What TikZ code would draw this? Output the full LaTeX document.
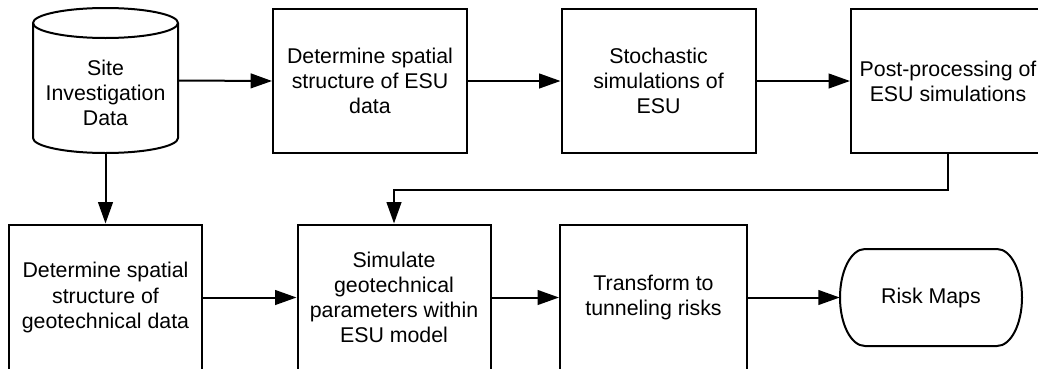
\documentclass[tikz,border=0pt]{standalone}
\usepackage{fontspec}
\setmainfont{Liberation Sans}
\usetikzlibrary{arrows.meta}
\tikzset{
  x=0.75pt, y=-0.75pt,
  txt/.style={align=center, inner sep=0pt, font=\fontsize{16}{18.8}\selectfont},
  box/.style={txt, draw, line width=1.5pt, minimum width=145.5pt, minimum height=108pt},
  lowbox/.style={txt, draw, line width=1.5pt, minimum width=144.75pt, minimum height=109.5pt},
  outline/.style={line width=1.5pt},
  arr/.style={line width=1.5pt, -{Triangle[length=16pt,width=11pt]}}
}
\begin{document}
\begin{tikzpicture}
\useasboundingbox (0,0) rectangle (1038,368);
% cylinder: Site Investigation Data
\node[minimum width=108.75pt, minimum height=108.75pt, inner sep=0pt] (sid) at (105.5,80.5) {};
\node[txt] (sidtext) at (105.5,93) {Site\\Investigation\\Data};
\draw[outline] (105.5,23) ellipse [x radius=72.5, y radius=15];
\draw[outline] (33,23) -- (33,138) arc[start angle=180, end angle=0, x radius=72.5, y radius=15] -- (178,23);
% top row
\node[box] (b2) at (370,81) {Determine spatial\\structure of ESU\\data};
\node[box] (b3) at (658.5,81) {Stochastic\\simulations of\\ESU};
\node[box] (b4) at (948,81) {Post-processing of\\ESU simulations};
% bottom row
\node[lowbox] (bA) at (105.5,297.5) {Determine spatial\\structure of\\geotechnical data};
\node[lowbox] (bB) at (394,297.5) {Simulate\\geotechnical\\parameters within\\ESU model};
\node[lowbox, minimum width=140.25pt] (bC) at (653.5,297.5) {Transform to\\tunneling risks};
\node[txt, minimum width=136.5pt, minimum height=72.75pt] (rm) at (931,297.5) {Risk Maps};
\draw[outline] (865,249) -- (997,249)
  arc[start angle=-90, end angle=90, x radius=25, y radius=48.5]
  -- (865,346)
  arc[start angle=90, end angle=270, x radius=25, y radius=48.5] -- cycle;
% connectors
\draw[arr] (sid.east) -- (b2.west);
\draw[arr] (b2.east) -- (b3.west);
\draw[arr] (b3.east) -- (b4.west);
\draw[arr] (b4.south) -- ++(0,36) -| (bB.north);
\draw[arr] (sid.south) -- (bA.north);
\draw[arr] (bA.east) -- (bB.west);
\draw[arr] (bB.east) -- (bC.west);
\draw[arr] (bC.east) -- (rm.west);
\end{tikzpicture}
\end{document}
